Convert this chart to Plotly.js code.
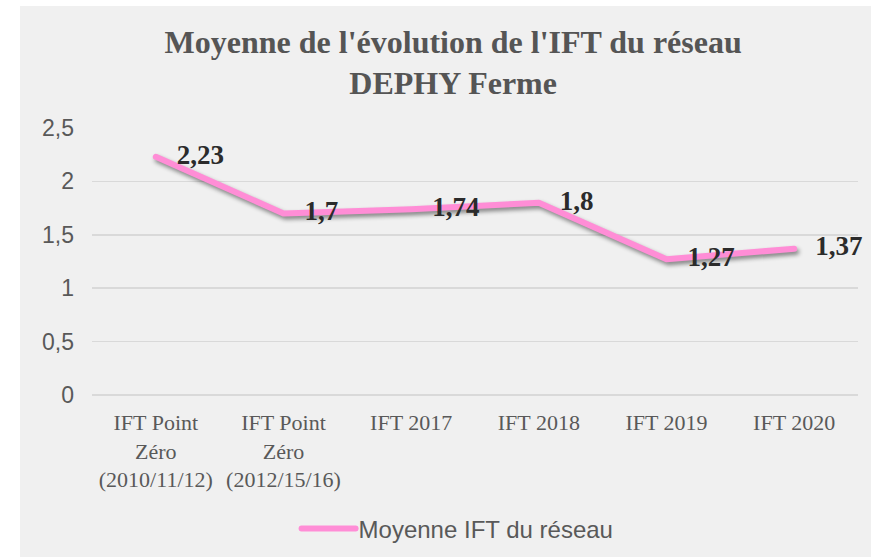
<!DOCTYPE html>
<html>
<head>
<meta charset="utf-8">
<script src="https://cdn.plot.ly/plotly-3.0.1.min.js"></script>
<style>
html,body{margin:0;padding:0;background:#ffffff;}
#chart{position:absolute;left:20px;top:6px;width:851px;height:551px;}
</style>
</head>
<body>
<div id="chart"></div>
<script>
const categories = [
  "IFT Point<br>Zéro<br>(2010/11/12)",
  "IFT Point<br>Zéro<br>(2012/15/16)",
  "IFT 2017",
  "IFT 2018",
  "IFT 2019",
  "IFT 2020"
];
const values = [2.23, 1.7, 1.74, 1.8, 1.27, 1.37];
const valueLabels = ["2,23", "1,7", "1,74", "1,8", "1,27", "1,37"];
const seriesName = "Moyenne IFT du réseau";
const yTicks = [0, 0.5, 1, 1.5, 2, 2.5];
const yTickLabels = ["0", "0,5", "1", "1,5", "2", "2,5"];

const serif = "Liberation Serif, Times New Roman, serif";
const sans = "Liberation Sans, Arial, sans-serif";

const trace = {
  x: categories,
  y: values,
  type: "scatter",
  mode: "lines+markers+text",
  name: seriesName,
  text: valueLabels,
  textposition: "middle right",
  textfont: {family: serif, size: 27, color: "#2b2b2b", weight: "bold"},
  line: {color: "#ff8dd6", width: 6},
  marker: {size: 32, color: "rgba(0,0,0,0)"},
  cliponaxis: false
};

const layout = {
  paper_bgcolor: "#f0f0f0",
  plot_bgcolor: "#f0f0f0",
  margin: {l: 72, r: 13, t: 122, b: 162},
  title: {
    text: "<b>Moyenne de l'évolution de l'IFT du réseau<br>DEPHY Ferme</b>",
    font: {family: serif, size: 32, color: "#555555"},
    x: 0.509, xref: "container", xanchor: "center",
    y: 0.915, yref: "container", yanchor: "middle"
  },
  xaxis: {
    type: "category",
    range: [-0.5, 5.5],
    showgrid: false,
    zeroline: false,
    showline: false,
    ticks: "",
    ticklabelstandoff: 12,
    tickfont: {family: serif, size: 22, color: "#595959"},
    automargin: false,
    fixedrange: true
  },
  yaxis: {
    range: [0, 2.5],
    tickvals: yTicks,
    ticktext: yTickLabels,
    showgrid: true,
    gridcolor: "#d9d9d9",
    gridwidth: 1.5,
    zeroline: true,
    zerolinecolor: "#d9d9d9",
    zerolinewidth: 1.5,
    showline: false,
    ticks: "",
    ticklabelstandoff: 17,
    tickfont: {family: sans, size: 23, color: "#595959"},
    automargin: false,
    fixedrange: true
  },
  showlegend: true,
  legend: {
    orientation: "h",
    x: 0.474, xanchor: "center",
    xref: "paper",
    y: 0.051, yref: "container", yanchor: "middle",
    itemwidth: 57,
    font: {family: sans, size: 24, color: "#595959"},
    bgcolor: "rgba(0,0,0,0)"
  }
};

Plotly.newPlot("chart", [trace], layout, {displayModeBar: false, staticPlot: true}).then(function(){
  document.querySelectorAll("#chart .scatterlayer .js-line").forEach(function(p){
    p.style.filter = "drop-shadow(2px 3px 2px rgba(0,0,0,0.45))";
    p.style.strokeLinejoin = "round";
    p.style.strokeLinecap = "round";
  });
  document.querySelectorAll("#chart .legend .legendlines path").forEach(function(p){
    p.setAttribute("d", "M10,0h54");
    p.style.strokeLinecap = "round";
  });
});
</script>
</body>
</html>
